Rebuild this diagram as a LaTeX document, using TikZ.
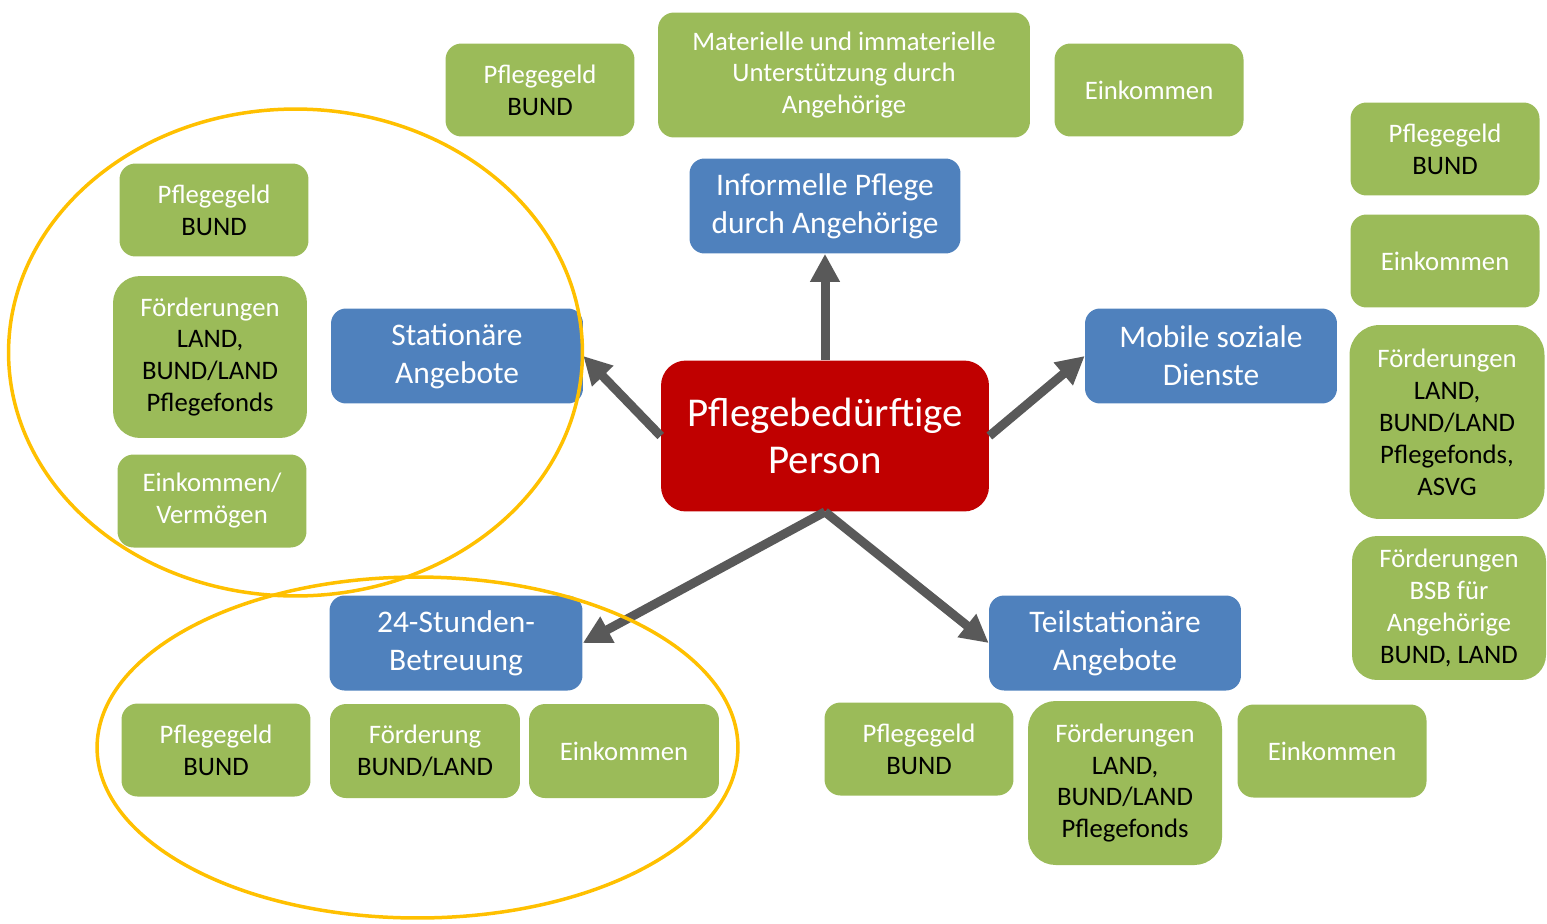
\documentclass[tikz,border=0pt]{standalone}
\usepackage{fontspec}
\setmainfont{Carlito}
\usepackage{tikz}
\usetikzlibrary{arrows.meta}

\definecolor{boxgreen}{HTML}{9BBB59}
\definecolor{boxblue}{HTML}{4F81BD}
\definecolor{boxred}{HTML}{C00000}
\definecolor{arrowgray}{HTML}{595959}
\definecolor{ringorange}{HTML}{FFC000}

% funding source lines are set in black
\newcommand{\payer}[1]{\textcolor{black}{#1}}

\begin{document}
\begin{tikzpicture}[x=0.02cm, y=-0.02cm,
		fund/.style={rectangle, rounded corners=0.32cm, fill=boxgreen, text=white, align=center, inner sep=0mm, minimum width=3.78cm, minimum height=1.86cm, font=\fontsize{15.2}{18.2}\selectfont},
		offer/.style={rectangle, rounded corners=0.3cm, fill=boxblue, text=white, align=center, inner sep=0mm, minimum width=5.04cm, minimum height=1.9cm, font=\fontsize{17.9}{21.5}\selectfont},
		person/.style={rectangle, rounded corners=0.5cm, fill=boxred, text=white, align=center, inner sep=0mm, minimum width=6.56cm, minimum height=3.02cm, font=\fontsize{23.3}{27.2}\selectfont},
		link/.style={draw=arrowgray, line width=0.18cm, -{Triangle[length=0.56cm, width=0.56cm]}},
		ring/.style={draw=ringorange, line width=0.07cm}]
		\useasboundingbox (0,0) rectangle (1547,923);

		% centre and the five kinds of care
		\node[person] at (825,436) (p) {Pflegebedürftige\\Person};
		\node[offer, minimum width=5.42cm] at (825,206) (inf) {Informelle Pflege\\durch Angehörige};
		\node[offer] at (457,356) (stat) {Stationäre\\Angebote};
		\node[offer] at (1211,356) (mobil) {Mobile soziale\\Dienste};
		\node[offer, minimum width=5.06cm] at (456,643) (h24) {24-Stunden-\\Betreuung};
		\node[offer] at (1115,643) (teil) {Teilstationäre\\Angebote};

		% informelle Pflege
		\node[fund] at (540,90) (i1) {Pflegegeld\\\payer{BUND}};
		\node[fund, minimum width=7.44cm, minimum height=2.5cm] at (844,75) (i2) {Materielle und immaterielle\\Unterstützung durch\\Angehörige};
		\node[fund] at (1149,90) (i3) {Einkommen};

		% stationaer
		\node[fund] at (214,210) (s1) {Pflegegeld\\\payer{BUND}};
		\node[fund, minimum width=3.88cm, minimum height=3.24cm, rounded corners=0.54cm] at (210,357) (s2) {Förderungen\\\payer{LAND,}\\\payer{BUND/LAND}\\\payer{Pflegefonds}};
		\node[fund] at (212,501) (s3) {Einkommen/\\Vermögen};

		% mobil
		\node[fund] at (1445,149) (m1) {Pflegegeld\\\payer{BUND}};
		\node[fund] at (1445,261) (m2) {Einkommen};
		\node[fund, minimum width=3.9cm, minimum height=3.88cm, rounded corners=0.6cm] at (1447,422) (m3) {Förderungen\\\payer{LAND,}\\\payer{BUND/LAND}\\\payer{Pflegefonds,}\\\payer{ASVG}};
		\node[fund, minimum width=3.88cm, minimum height=2.88cm, rounded corners=0.5cm] at (1449,608) (m4) {Förderungen\\BSB für\\Angehörige\\\payer{BUND, LAND}};

		% 24 Stunden
		\node[fund] at (216,750) (h1) {Pflegegeld\\\payer{BUND}};
		\node[fund, minimum width=3.8cm, minimum height=1.88cm] at (425,751) (h2) {Förderung\\\payer{BUND/LAND}};
		\node[fund, minimum width=3.8cm, minimum height=1.88cm] at (624,751) (h3) {Einkommen};

		% teilstationaer
		\node[fund] at (919,749) (ts1) {Pflegegeld\\\payer{BUND}};
		\node[fund, minimum width=3.88cm, minimum height=3.28cm, rounded corners=0.55cm] at (1125,783) (ts2) {Förderungen\\\payer{LAND,}\\\payer{BUND/LAND}\\\payer{Pflegefonds}};
		\node[fund] at (1332,751) (ts3) {Einkommen};

		\draw[link] (p.north) -- (inf.south);
		\draw[link] (p.west) -- (stat.east);
		\draw[link] (p.east) -- (mobil.west);
		\draw[link] (p.south) -- (h24.east);
		\draw[link] (p.south) -- (teil.west);

		\draw[ring] (295.5,352.5) ellipse [x radius=5.74cm, y radius=4.87cm];
		\draw[ring] (417.5,747.5) ellipse [x radius=6.41cm, y radius=3.41cm];
	\end{tikzpicture}
\end{document}
